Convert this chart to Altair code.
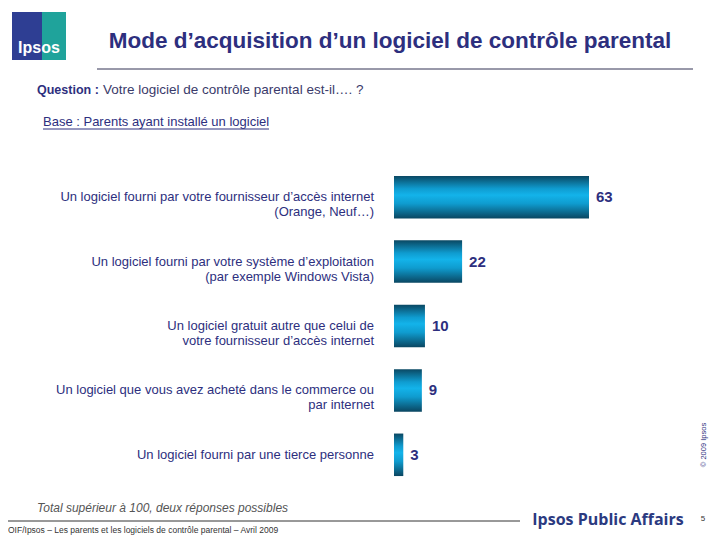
import altair as alt
import pandas as pd

categories = [
    "Un logiciel fourni par votre fournisseur d\u2019acc\u00e8s internet\n(Orange, Neuf\u2026)",
    "Un logiciel fourni par votre syst\u00e8me d\u2019exploitation\n(par exemple Windows Vista)",
    "Un logiciel gratuit autre que celui de\nvotre fournisseur d\u2019acc\u00e8s internet",
    "Un logiciel que vous avez achet\u00e9 dans le commerce ou\npar internet",
    "Un logiciel fourni par une tierce personne",
]
values = [63, 22, 10, 9, 3]

title_text = "Mode d\u2019acquisition d\u2019un logiciel de contr\u00f4le parental"
question_label = "Question :"
question_text = "Votre logiciel de contr\u00f4le parental est-il\u2026. ?"
base_text = "Base : Parents ayant install\u00e9 un logiciel"
note_text = "Total sup\u00e9rieur \u00e0 100, deux r\u00e9ponses possibles"
footer_text = "OIF/Ipsos \u2013 Les parents et les logiciels de contr\u00f4le parental \u2013 Avril 2009"
brand_text = "Ipsos Public Affairs"
page_text = "5"
copyright_text = "\u00a9 2009 Ipsos"

df = pd.DataFrame({"cat": categories, "val": values})
one = pd.DataFrame({"k": [0]})

NAVY = "#2d2f7e"
FONT = "Liberation Sans, Arial"

xscale = alt.Scale(domain=[0, 63], range=[386, 581], nice=False, zero=True)
yscale = alt.Scale(domain=categories, range=[157, 479], paddingInner=0.34, paddingOuter=0.17)

grad = alt.Gradient(
    gradient="linear",
    x1=0, x2=0, y1=0, y2=1,
    stops=[
        alt.GradientStop(color="#0a4863", offset=0),
        alt.GradientStop(color="#0f9cd0", offset=0.3),
        alt.GradientStop(color="#13b3ea", offset=0.45),
        alt.GradientStop(color="#0f9ccf", offset=0.65),
        alt.GradientStop(color="#0a4661", offset=1),
    ],
)

base = alt.Chart(df)
bars = base.mark_bar(color=grad).encode(
    x=alt.X("val:Q", scale=xscale, axis=None),
    y=alt.Y("cat:N", scale=yscale, axis=None, sort=categories),
)
vals = base.mark_text(align="left", baseline="middle", dx=7, font=FONT,
                      fontSize=15, fontWeight="bold", color=NAVY).encode(
    x=alt.X("val:Q", scale=xscale, axis=None),
    y=alt.Y("cat:N", scale=yscale, axis=None, sort=categories),
    text="val:Q",
)
labels = base.mark_text(align="right", baseline="middle", lineBreak="\n", lineHeight=15,
                        font=FONT, fontSize=13, color=NAVY).encode(
    x=alt.value(366),
    y=alt.Y("cat:N", scale=yscale, axis=None, sort=categories),
    text="cat:N",
)

def txt(text, x, y, **kw):
    return alt.Chart(one).mark_text(text=text, **kw).encode(x=alt.value(x), y=alt.value(y))

def rule(x, x2, y, color="#444444", w=1):
    return alt.Chart(one).mark_rule(color=color, strokeWidth=w).encode(
        x=alt.value(x), x2=alt.value(x2), y=alt.value(y))

def box(x, x2, y, y2, color):
    return alt.Chart(one).mark_rect(color=color).encode(
        x=alt.value(x), x2=alt.value(x2), y=alt.value(y), y2=alt.value(y2))

logo = box(4, 58, 4, 52, "#2e3e93") + box(34, 58, 4, 52, "#1fa39b")
logo_text = txt("Ipsos", 31, 40, font="Liberation Sans", fontSize=16,
                fontWeight="bold", color="white", align="center", baseline="middle")

title = txt(title_text, 382, 33, font="Liberation Sans, Arial", fontSize=22.5, fontWeight="bold",
            color=NAVY, align="center", baseline="middle")
title_rule = rule(89, 685, 61, color="#333355")
q1 = txt(question_label, 29, 82, font="Liberation Sans, Arial", fontSize=12.5, fontWeight="bold",
         color=NAVY, align="left", baseline="middle")
q2 = txt(question_text, 95, 82, font="Liberation Sans, Arial", fontSize=13.5,
         color="#3a3a6a", align="left", baseline="middle")
b1 = txt(base_text, 35, 114, font=FONT, fontSize=13, color=NAVY, align="left", baseline="middle")
b_rule = rule(35, 261, 121, color=NAVY)
note = txt(note_text, 29, 500, font="Liberation Sans, Arial", fontSize=12, fontStyle="italic",
           color="#555555", align="left", baseline="middle")
foot_rule = rule(0, 512, 513, color="#333333")
foot = txt(footer_text, 0, 522, font=FONT, fontSize=8.5, color="#333333", align="left", baseline="middle")
brand = txt(brand_text, 600, 512, font="Open Sans, Liberation Sans", fontSize=16, fontWeight="bold",
            color="#2b3a80", align="center", baseline="middle")
page = txt(page_text, 695, 511, font="Liberation Sans", fontSize=8, color="#333333",
           align="center", baseline="middle")
copy = txt(copyright_text, 696, 437, font="Liberation Sans", fontSize=7.5, color="#2d2f7e",
           align="center", baseline="middle", angle=270)

chart = alt.layer(
    logo, logo_text, title, title_rule, q1, q2, b1, b_rule,
    bars, vals, labels, note, foot_rule, foot, brand, page, copy,
).properties(
    width=704, height=532, padding=0,
    autosize=alt.AutoSizeParams(type="none"),
).configure_view(stroke=None)

chart.save("out.html", embed_options={"renderer": "svg", "actions": False})
